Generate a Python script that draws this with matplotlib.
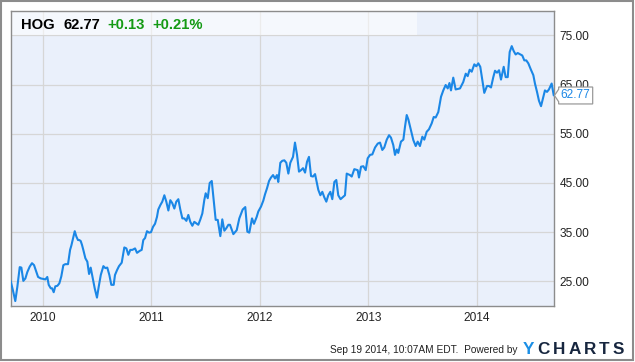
import matplotlib
matplotlib.use("Agg")
import matplotlib.pyplot as plt
import matplotlib.transforms as mtransforms
from matplotlib.patches import Rectangle, Polygon

plt.rcParams['font.family'] = ['Liberation Sans', 'DejaVu Sans']

# HOG weekly close (date as decimal year)
dates = [
    2009.705, 2009.724, 2009.747, 2009.766, 2009.788, 2009.803, 2009.821, 2009.840, 2009.858, 2009.880,
    2009.901, 2009.920, 2009.938, 2009.957, 2009.982, 2010.006, 2010.024, 2010.042, 2010.055, 2010.074,
    2010.086, 2010.101, 2010.116, 2010.135, 2010.153, 2010.171, 2010.190, 2010.208, 2010.233, 2010.252,
    2010.264, 2010.276, 2010.295, 2010.310, 2010.325, 2010.337, 2010.350, 2010.362, 2010.374, 2010.393,
    2010.411, 2010.427, 2010.442, 2010.461, 2010.479, 2010.500, 2010.516, 2010.535, 2010.559, 2010.577,
    2010.595, 2010.614, 2010.632, 2010.654,
    2010.666, 2010.685, 2010.703, 2010.728, 2010.752, 2010.771, 2010.789, 2010.807, 2010.826, 2010.851,
    2010.869, 2010.894, 2010.912, 2010.927, 2010.943, 2010.961, 2010.980, 2010.998, 2011.017, 2011.035,
    2011.053, 2011.065, 2011.084, 2011.102, 2011.121, 2011.139, 2011.158, 2011.176, 2011.194, 2011.213,
    2011.231, 2011.250, 2011.268, 2011.287, 2011.305, 2011.324, 2011.342, 2011.360, 2011.379, 2011.397,
    2011.416, 2011.434, 2011.453, 2011.471, 2011.489, 2011.502, 2011.521, 2011.539, 2011.558, 2011.576,
    2011.594, 2011.613, 2011.637, 2011.655, 2011.674, 2011.692, 2011.711,
    2011.726, 2011.757, 2011.788, 2011.812, 2011.843, 2011.867, 2011.886, 2011.904, 2011.929, 2011.947,
    2011.972, 2011.987, 2012.012, 2012.033, 2012.049, 2012.067, 2012.086, 2012.104, 2012.123, 2012.141,
    2012.159, 2012.171, 2012.190, 2012.208, 2012.227, 2012.245, 2012.264, 2012.282, 2012.307, 2012.325,
    2012.344, 2012.362, 2012.381, 2012.399, 2012.418, 2012.436, 2012.454, 2012.473, 2012.491, 2012.510,
    2012.528, 2012.540, 2012.559, 2012.577, 2012.595, 2012.614, 2012.632, 2012.651, 2012.669, 2012.688,
    2012.706, 2012.724, 2012.745, 2012.765, 2012.786, 2012.802, 2012.832, 2012.848, 2012.872, 2012.903,
    2012.915, 2012.934, 2012.955, 2012.977, 2012.995, 2013.017, 2013.038, 2013.063, 2013.088, 2013.109,
    2013.130, 2013.148, 2013.171, 2013.192, 2013.210, 2013.231, 2013.247, 2013.263, 2013.277, 2013.302,
    2013.324, 2013.339, 2013.355, 2013.370, 2013.394, 2013.416, 2013.438, 2013.456, 2013.477, 2013.499,
    2013.517, 2013.539, 2013.560, 2013.585, 2013.604, 2013.622, 2013.646, 2013.671, 2013.692, 2013.714,
    2013.733, 2013.749, 2013.763, 2013.784, 2013.806, 2013.828, 2013.846, 2013.876, 2013.899, 2013.917,
    2013.935, 2013.954, 2013.978, 2013.996, 2014.015, 2014.033, 2014.052, 2014.070, 2014.095, 2014.113,
    2014.132, 2014.153, 2014.169, 2014.187, 2014.206, 2014.224, 2014.249, 2014.267, 2014.286, 2014.304,
    2014.323, 2014.341, 2014.359, 2014.378, 2014.402, 2014.420, 2014.439, 2014.457, 2014.476, 2014.500,
    2014.522, 2014.537, 2014.556, 2014.574, 2014.593, 2014.611, 2014.629, 2014.648, 2014.666, 2014.691,
    2014.710, 2014.717,
]
prices = [
    25.0, 23.3, 21.0, 23.9, 27.9, 27.8, 25.1, 25.6, 26.9, 28.0,
    28.7, 28.3, 27.1, 25.9, 25.6, 25.5, 25.4, 25.9, 24.3, 23.6,
    23.6, 22.8, 24.0, 24.1, 24.6, 26.0, 28.3, 28.5, 28.5, 31.4,
    32.3, 33.4, 35.2, 34.1, 33.4, 33.4, 33.2, 32.4, 31.4, 29.7,
    29.0, 26.5, 27.8, 25.6, 23.6, 21.7, 23.9, 26.3, 28.1, 27.7,
    27.8, 26.3, 24.3, 24.3,
    26.3, 27.3, 28.1, 28.8, 31.9, 31.7, 30.4, 31.4, 31.4, 31.7,
    30.8, 31.2, 31.4, 33.4, 33.8, 35.2, 34.9, 35.0, 36.1, 36.7,
    38.1, 39.6, 40.5, 41.2, 42.5, 41.2, 39.4, 41.5, 40.9, 39.8,
    41.2, 41.7, 39.6, 37.8, 37.8, 37.3, 38.5, 37.1, 36.3, 37.1,
    36.8, 36.5, 37.6, 38.8, 41.5, 42.9, 41.9, 45.0, 45.4, 41.5,
    37.5, 37.5, 34.2, 37.6, 35.3, 35.8, 36.5,
    36.5, 34.6, 35.4, 37.8, 39.6, 40.1, 35.1, 34.9, 37.8, 36.7,
    38.1, 39.2, 40.2, 41.4, 42.7, 43.9, 45.4, 46.1, 46.6, 45.9,
    46.6, 45.2, 49.1, 49.5, 49.6, 49.1, 46.9, 49.1, 50.3, 53.2,
    50.7, 47.3, 47.6, 48.0, 47.1, 49.3, 50.3, 46.4, 46.3, 46.8,
    44.9, 43.6, 42.5, 43.2, 42.1, 41.2, 42.5, 43.2, 41.7, 45.2,
    45.6, 42.5, 41.7, 42.1, 42.5, 46.9, 46.6, 46.3, 47.8, 47.6,
    46.1, 48.3, 48.4, 47.6, 50.0, 50.7, 50.8, 52.2, 53.0, 53.2,
    51.7, 52.2, 53.8, 54.7, 54.2, 52.7, 50.7, 51.8, 51.1, 53.4,
    53.8, 56.4, 58.8, 57.9, 55.7, 53.7, 52.5, 53.4, 52.5, 54.4,
    53.8, 55.4, 55.9, 57.1, 58.4, 58.3, 59.4, 62.5, 63.8, 64.9,
    64.2, 65.3, 63.8, 66.4, 64.0, 64.1, 64.2, 65.5, 67.2, 66.7,
    68.0, 67.6, 69.1, 68.7, 69.3, 68.6, 65.9, 63.3, 64.7, 64.7,
    64.4, 66.5, 67.8, 67.4, 67.9, 66.0, 68.6, 66.5, 66.5, 71.6,
    72.8, 71.8, 71.1, 71.4, 71.1, 70.9, 69.9, 69.9, 69.3, 68.0,
    66.9, 65.2, 63.5, 61.7, 60.6, 62.2, 63.8, 63.5, 64.0, 65.2,
    62.8, 62.77,
]

year_ticks = [2010, 2011, 2012, 2013, 2014]
price_ticks = [25, 35, 45, 55, 65, 75]

ticker = "HOG"
last_price = "62.77"
change = "+0.13"
change_pct = "+0.21%"
footer = "Sep 19 2014, 10:07AM EDT.  Powered by"

line_color = '#1b87e6'
grid_color = '#d6d6d6'
frame_color = '#8c8c8c'

fig = plt.figure(figsize=(6.35, 3.62), dpi=100)
ax = fig.add_axes([0.0169, 0.1547, 0.8563, 0.8158])
ax.set_facecolor('#eaf0fb')

ax.plot(dates, prices, color=line_color, linewidth=1.5, zorder=3)

ax.set_xlim(2009.705, 2014.717)
ax.set_ylim(20, 80)

ax.set_xticks(year_ticks)
ax.set_xticklabels([str(y) for y in year_ticks])
ax.set_yticks(price_ticks)
ax.set_yticklabels([f"{p:.2f}" for p in price_ticks])
ax.yaxis.tick_right()
ax.tick_params(axis='both', length=0, labelsize=8.6, colors='#222222')
ax.tick_params(axis='x', pad=4)
ax.tick_params(axis='y', pad=3.5)

ax.grid(True, color=grid_color, linewidth=0.9, zorder=1)
ax.set_axisbelow(True)
for sp in ax.spines.values():
    sp.set_color(frame_color)
    sp.set_linewidth(1.0)

# header band with the quote
band = Rectangle((0, 75), 0.747, 5, transform=ax.get_yaxis_transform(),
                 facecolor='white', alpha=0.55, edgecolor='none', zorder=2)
ax.add_patch(band)

hdr_y = 1 - 29 / 362
fig.text(21.3 / 635, hdr_y, ticker, fontsize=10.6, fontweight='bold', color='black', va='baseline')
fig.text(63.3 / 635, hdr_y, last_price, fontsize=10.6, fontweight='bold', color='black', va='baseline')
fig.text(107.3 / 635, hdr_y, change, fontsize=10.6, fontweight='bold', color='#149a14', va='baseline')
fig.text(152.7 / 635, hdr_y, change_pct, fontsize=10.6, fontweight='bold', color='#149a14', va='baseline')

# last value callout at the right edge, drawn over the 65.00 label like the original
tag_trans = mtransforms.Affine2D().scale(fig.dpi / 72) + \
    mtransforms.ScaledTranslation(dates[-1], prices[-1], ax.transData)
tag = Polygon([(0, 0), (3, 4.5), (3, 6.1), (27.5, 6.1), (27.5, -6.1), (3, -6.1), (3, -4.5)],
              closed=True, transform=tag_trans, facecolor='white', edgecolor='#9a9a9a',
              linewidth=0.9, clip_on=False, zorder=5)
ax.add_patch(tag)
ax.annotate(f"{prices[-1]:.2f}", xy=(dates[-1], prices[-1]), xytext=(15.3, 0),
            textcoords='offset points', ha='center', va='center', fontsize=8.6,
            color=line_color, annotation_clip=False, zorder=6)

# footer
fig.text(518 / 635, 1 - 353 / 362, footer, fontsize=7.3, color='#222222', ha='right', va='baseline')
logo_x = [523, 537.4, 552.8, 568.2, 583.6, 599, 612.5]
for ch, lx in zip("YCHARTS", logo_x):
    fig.text(lx / 635, 1 - 354 / 362, ch, fontsize=12.3, fontweight='bold',
             color='#1b8fe6' if ch == 'Y' else '#17263f', va='baseline')

fig.patches.append(Rectangle((0.0016, 0.0045), 0.9955, 0.993, transform=fig.transFigure,
                             fill=False, edgecolor=frame_color, linewidth=1.5))

fig.savefig("out.png", dpi=100, facecolor='white')
